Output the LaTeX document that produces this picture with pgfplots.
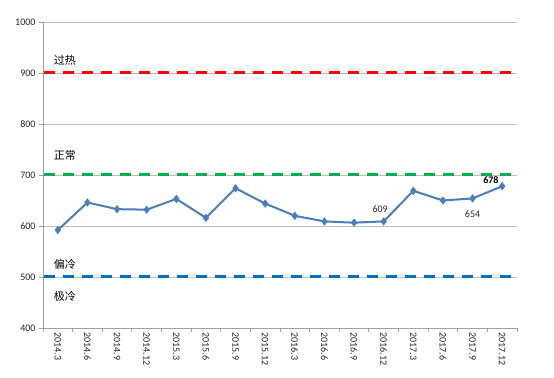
\documentclass[border=0pt]{standalone}
\usepackage{pgfplots}
\pgfplotsset{compat=1.18}
\usepackage{fontspec}
\setmainfont{Carlito}
\newfontfamily\cjk{Noto Sans CJK SC}
\definecolor{lineblue}{RGB}{74,126,187}
\definecolor{hotred}{RGB}{255,0,0}
\definecolor{okgreen}{RGB}{0,176,80}
\definecolor{coldblue}{RGB}{0,112,192}
\definecolor{gridgray}{RGB}{190,190,190}
\definecolor{axgray}{RGB}{160,160,160}
\begin{document}
\begin{tikzpicture}
\begin{axis}[
  scale only axis,
  width=474bp, height=306bp,
  xmin=-0.5, xmax=15.5,
  ymin=400, ymax=1000,
  ytick={400,500,...,1000},
  ymajorgrids,
  grid style={gridgray, line width=0.8pt},
  axis x line*=bottom, axis y line*=left,
  axis line style={axgray, line width=0.8pt},
  xtick={0,...,15},
  xticklabels={2014.3,2014.6,2014.9,2014.12,2015.3,2015.6,2015.9,2015.12,2016.3,2016.6,2016.9,2016.12,2017.3,2017.6,2017.9,2017.12},
  minor xtick={-0.5,0.5,...,15.5},
  major x tick style={draw=none},
  minor x tick style={axgray, line width=0.8pt},
  y tick style={axgray, line width=0.8pt},
  tick align=outside,
  major tick length=4bp, minor tick length=4bp,
  xticklabel style={rotate=-90, anchor=west, font=\fontsize{10bp}{12bp}\selectfont, text=black!85, xshift=-3bp},
  yticklabel style={font=\fontsize{10bp}{12bp}\selectfont, text=black!85},
  /pgf/number format/assume math mode=true,
  /pgf/number format/1000 sep={},
  clip=false,
]
\addplot[hotred, line width=3bp, dash pattern=on 11bp off 8bp] coordinates {(-0.45,900) (15.5,900)};
\addplot[okgreen, line width=3bp, dash pattern=on 11bp off 8bp] coordinates {(-0.45,700) (15.5,700)};
\addplot[coldblue, line width=3bp, dash pattern=on 11bp off 8bp] coordinates {(-0.45,500) (15.5,500)};
\addplot[lineblue, line width=2bp, mark=diamond*, mark size=3.8bp, mark options={fill=lineblue, line width=0.5bp}] coordinates {
(0,592) (1,646) (2,633) (3,632) (4,653) (5,616) (6,674) (7,644)
(8,620) (9,609) (10,606.5) (11,609) (12,669) (13,650) (14,654) (15,678)};
\node[anchor=west, font=\cjk\fontsize{11bp}{13bp}\selectfont] at (axis cs:-0.25,925) {过热};
\node[anchor=west, font=\cjk\fontsize{11bp}{13bp}\selectfont] at (axis cs:-0.25,739) {正常};
\node[anchor=west, font=\cjk\fontsize{11bp}{13bp}\selectfont] at (axis cs:-0.25,525) {偏冷};
\node[anchor=west, font=\cjk\fontsize{11bp}{13bp}\selectfont] at (axis cs:-0.25,462) {极冷};
\node[font=\fontsize{10bp}{12bp}\selectfont, text=black!85] at (axis cs:10.88,633) {609};
\node[font=\fontsize{10bp}{12bp}\selectfont, text=black!85] at (axis cs:14.0,624) {654};
\node[font=\bfseries\fontsize{10bp}{12bp}\selectfont] at (axis cs:14.62,690) {678};
\end{axis}
\pgfresetboundingbox
\path ([shift={(-43bp,-50bp)}]current axis.south west) rectangle ([shift={(37bp,22bp)}]current axis.north east);
\end{tikzpicture}
\end{document}
